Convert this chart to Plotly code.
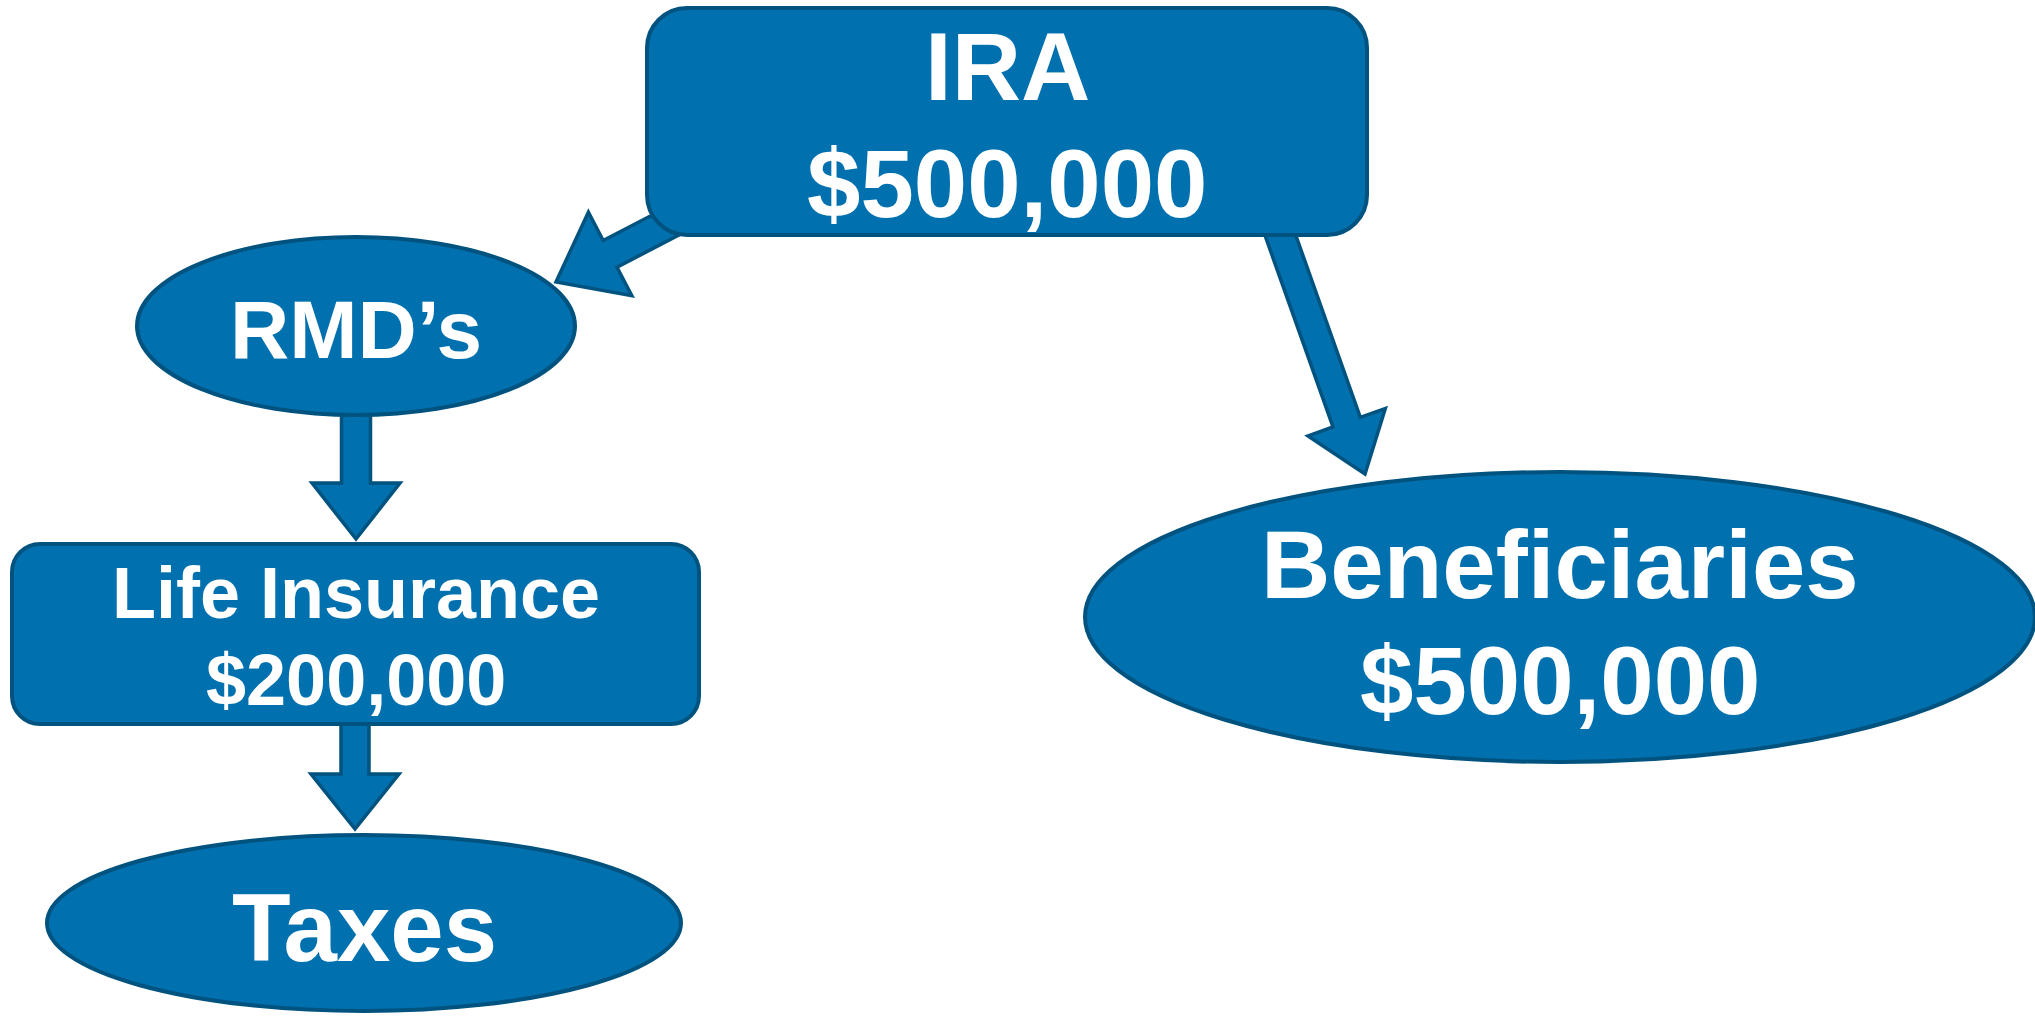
import math
import plotly.graph_objects as go

# ---- data (labels and amounts) ----
node_labels = ["IRA", "RMD\u2019s", "Life Insurance", "Taxes", "Beneficiaries"]
node_amounts = [500000, None, 200000, None, 500000]
flow_from = ["IRA", "RMD\u2019s", "Life Insurance", "IRA"]
flow_to = ["RMD\u2019s", "Life Insurance", "Taxes", "Beneficiaries"]

# ---- layout geometry (pixels, canvas 2035 x 1016, y downward) ----
W, H = 2035, 1016
FILL = "#0071AE"
EDGE = "#00527F"
LW = 4

geom = {
    "IRA": dict(kind="rect", x0=647, y0=8, x1=1367, y1=235, r=40, font=96,
                lines_y=[66, 183], cx=1007),
    "RMD\u2019s": dict(kind="ellipse", cx=356, cy=326, rx=219, ry=89, font=82,
                        lines_y=[329]),
    "Life Insurance": dict(kind="rect", x0=12, y0=544, x1=699, y1=724, r=28, font=72,
                           lines_y=[593, 680], cx=356),
    "Taxes": dict(kind="ellipse", cx=364, cy=923, rx=317, ry=88, font=96,
                  lines_y=[927]),
    "Beneficiaries": dict(kind="ellipse", cx=1560, cy=617, rx=475, ry=145, font=96,
                          lines_y=[564, 680]),
}

arrows = {
    ("IRA", "RMD\u2019s"): dict(start=(706, 204), tip=(556, 282), sw=30, hw=94, hl=61),
    ("RMD\u2019s", "Life Insurance"): dict(start=(356, 380), tip=(356, 539), sw=29, hw=88, hl=56),
    ("Life Insurance", "Taxes"): dict(start=(355, 700), tip=(355, 829), sw=28, hw=88, hl=55),
    ("IRA", "Beneficiaries"): dict(start=(1259, 175), tip=(1365, 474), sw=29, hw=82, hl=55),
}


def arrow_path(start, tip, sw, hw, hl):
    sx, sy = start
    tx, ty = tip
    L = math.hypot(tx - sx, ty - sy)
    dx, dy = (tx - sx) / L, (ty - sy) / L
    px, py = -dy, dx
    bx, by = tx - dx * hl, ty - dy * hl
    pts = [
        (sx + px * sw / 2, sy + py * sw / 2),
        (bx + px * sw / 2, by + py * sw / 2),
        (bx + px * hw / 2, by + py * hw / 2),
        (tx, ty),
        (bx - px * hw / 2, by - py * hw / 2),
        (bx - px * sw / 2, by - py * sw / 2),
        (sx - px * sw / 2, sy - py * sw / 2),
    ]
    return "M " + " L ".join(f"{x:.1f},{y:.1f}" for x, y in pts) + " Z"


def rounded_rect(x0, y0, x1, y1, r):
    k = 0.5523 * r
    return (
        f"M {x0 + r},{y0} L {x1 - r},{y0} "
        f"C {x1 - r + k},{y0} {x1},{y0 + r - k} {x1},{y0 + r} "
        f"L {x1},{y1 - r} "
        f"C {x1},{y1 - r + k} {x1 - r + k},{y1} {x1 - r},{y1} "
        f"L {x0 + r},{y1} "
        f"C {x0 + r - k},{y1} {x0},{y1 - r + k} {x0},{y1 - r} "
        f"L {x0},{y0 + r} "
        f"C {x0},{y0 + r - k} {x0 + r - k},{y0} {x0 + r},{y0} Z"
    )


fig = go.Figure()
fig.add_trace(go.Scatter(x=[0, W], y=[0, H], mode="markers",
                         marker=dict(opacity=0), hoverinfo="skip", showlegend=False))

shapes = []
# arrows first (they sit behind the nodes)
for a, b in zip(flow_from, flow_to):
    g = arrows[(a, b)]
    shapes.append(dict(type="path", path=arrow_path(g["start"], g["tip"], g["sw"], g["hw"], g["hl"]),
                       xref="x", yref="y", fillcolor=FILL,
                       line=dict(color=EDGE, width=3.5), layer="above"))

annotations = []
for label, amount in zip(node_labels, node_amounts):
    g = geom[label]
    if g["kind"] == "rect":
        shapes.append(dict(type="path", path=rounded_rect(g["x0"], g["y0"], g["x1"], g["y1"], g["r"]),
                           xref="x", yref="y", fillcolor=FILL,
                           line=dict(color=EDGE, width=LW), layer="above"))
        cx = g["cx"]
    else:
        shapes.append(dict(type="circle", xref="x", yref="y",
                           x0=g["cx"] - g["rx"], x1=g["cx"] + g["rx"],
                           y0=g["cy"] - g["ry"], y1=g["cy"] + g["ry"],
                           fillcolor=FILL, line=dict(color=EDGE, width=LW), layer="above"))
        cx = g["cx"]
    lines = [label]
    if amount is not None:
        lines.append(f"${amount:,}")
    for text, yy in zip(lines, g["lines_y"]):
        annotations.append(dict(x=cx, y=yy, xref="x", yref="y", text=text, showarrow=False,
                                xanchor="center", yanchor="middle",
                                font=dict(family="Liberation Sans, Arial, sans-serif",
                                          size=g["font"], color="white", weight="bold")))

fig.update_layout(
    width=W, height=H,
    margin=dict(l=0, r=0, t=0, b=0),
    paper_bgcolor="white", plot_bgcolor="white",
    showlegend=False,
    xaxis=dict(range=[0, W], visible=False, fixedrange=True),
    yaxis=dict(range=[H, 0], visible=False, fixedrange=True),
    shapes=shapes,
    annotations=annotations,
)

fig.write_html("out.html", config={"displayModeBar": False},
               post_script="document.body.style.margin='0';document.body.style.overflow='hidden';")
